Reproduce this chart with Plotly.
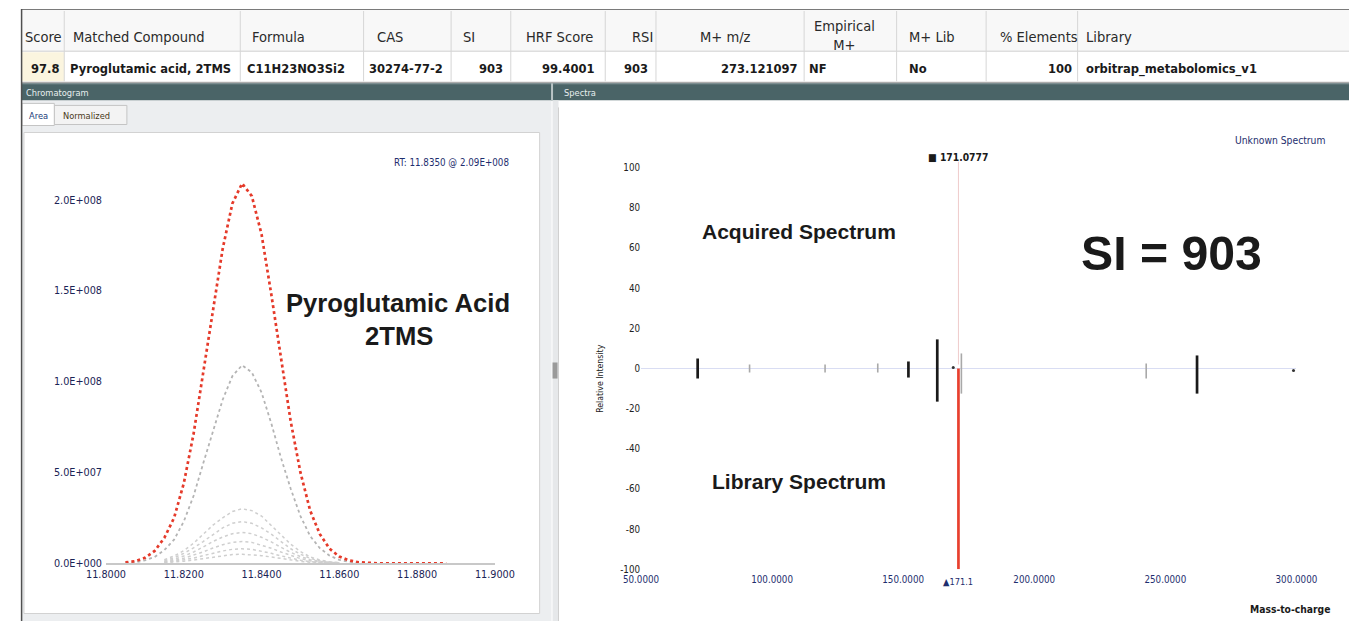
import plotly.graph_objects as go

# The captured picture shows the page slightly shrunk (about 0.975) and centred,
# so reference pixel coordinates are mapped through that transform.
W, H = 1349, 621
A = 0.975
BX, BY = 18.5, 7.0


def fx(x):
    return (x - BX) / A


def fy(y):
    return (y - BY) / A


def px(x):
    return fx(x) / W


def py(y):
    return 1 - fy(y) / H


def fs(s):
    return s / A


# ------------------------------------------------------------------ data
table_headers = ["Score", "Matched Compound", "Formula", "CAS", "SI", "HRF Score", "RSI",
                 "M+ m/z", "Empirical<br>M+", "M+ Lib", "% Elements", "Library"]
table_row = ["97.8", "Pyroglutamic acid, 2TMS", "C11H23NO3Si2", "30274-77-2", "903", "99.4001",
             "903", "273.121097", "NF", "No", "100", "orbitrap_metabolomics_v1"]

# chromatogram (retention time, min) and ion intensities (counts)
rt_times = [11.8050, 11.8075, 11.8100, 11.8125, 11.8150, 11.8175, 11.8200, 11.8225, 11.8250,
            11.8275, 11.8300, 11.8325, 11.8350, 11.8375, 11.8400, 11.8425, 11.8450, 11.8475,
            11.8500, 11.8525, 11.8550, 11.8575, 11.8600, 11.8625, 11.8650, 11.8675, 11.8700,
            11.8725, 11.8750, 11.8775, 11.8800, 11.8825, 11.8850, 11.8875]
quant_ion = [0.5e6, 1.2e6, 3.0e6, 6.8e6, 14e6, 25e6, 44e6, 71e6, 105e6, 140e6, 173e6, 198e6,
             209e6, 202e6, 181e6, 148e6, 112e6, 78e6, 50e6, 29e6, 16e6, 8e6, 3.7e6, 1.6e6,
             0.6e6, 0.2e6, 0, 0, 0, 0, 0, 0, 0, 0]
confirm_ion_1 = [0.3e6, 0.6e6, 1.6e6, 3.5e6, 7.3e6, 13e6, 23e6, 37e6, 55e6, 73e6, 90e6, 103e6,
                 109e6, 105e6, 94e6, 77e6, 58e6, 41e6, 26e6, 15e6, 8.3e6, 4.2e6, 1.9e6, 0.8e6,
                 0.3e6, 0.1e6]
rt_minor = [11.8150, 11.8175, 11.8200, 11.8225, 11.8250, 11.8275, 11.8300, 11.8325, 11.8350,
            11.8375, 11.8400, 11.8425, 11.8450, 11.8475, 11.8500, 11.8525, 11.8550, 11.8575,
            11.8600]
minor_ions = [
    [2e6, 4e6, 7e6, 11e6, 16e6, 21e6, 25e6, 28.5e6, 30e6, 29e6, 26e6, 21e6, 15.5e6, 10.5e6,
     6.5e6, 3.5e6, 1.8e6, 0.8e6, 0.3e6],
    [1.5e6, 3e6, 5.5e6, 8.5e6, 12e6, 16e6, 19.5e6, 22e6, 23e6, 22e6, 19.5e6, 16e6, 12e6, 8e6,
     5e6, 2.7e6, 1.3e6, 0.6e6, 0.2e6],
    [1e6, 2.2e6, 4e6, 6.2e6, 9e6, 12e6, 14.5e6, 16.3e6, 17e6, 16.3e6, 14.3e6, 11.8e6, 8.8e6,
     6e6, 3.7e6, 2e6, 1e6, 0.4e6, 0.2e6],
    [0.8e6, 1.5e6, 2.8e6, 4.4e6, 6.3e6, 8.4e6, 10.2e6, 11.5e6, 12e6, 11.5e6, 10.1e6, 8.3e6,
     6.2e6, 4.2e6, 2.6e6, 1.4e6, 0.7e6, 0.3e6, 0.1e6],
    [0.5e6, 1e6, 1.9e6, 2.9e6, 4.2e6, 5.6e6, 6.8e6, 7.7e6, 8e6, 7.7e6, 6.7e6, 5.5e6, 4.1e6,
     2.8e6, 1.7e6, 0.9e6, 0.5e6, 0.2e6, 0.1e6],
    [0.3e6, 0.6e6, 1.2e6, 1.8e6, 2.6e6, 3.5e6, 4.3e6, 4.8e6, 5e6, 4.8e6, 4.2e6, 3.5e6, 2.6e6,
     1.7e6, 1.1e6, 0.6e6, 0.3e6, 0.1e6, 0],
]
chrom_x_ticks = [11.80, 11.82, 11.84, 11.86, 11.88, 11.90]
chrom_x_labels = ["11.8000", "11.8200", "11.8400", "11.8600", "11.8800", "11.9000"]
chrom_y_ticks = [0, 5e7, 1e8, 1.5e8, 2e8]
chrom_y_labels = ["0.0E+000", "5.0E+007", "1.0E+008", "1.5E+008", "2.0E+008"]

# spectra (m/z, relative intensity %)
acq_major_mz = [71.6, 152.0, 163.0, 262.1]
acq_major_top = [5, 3.5, 14.5, 6.5]
acq_major_bottom = [-5, -4.5, -16.5, -12.5]
acq_minor_mz = [91.4, 120.2, 140.3, 172.2, 242.7]
acq_minor_top = [2, 2, 2.5, 7.5, 2.5]
acq_minor_bottom = [-2, -2, -2, -12.5, -5]
acq_dot_mz = [169.1, 298.9]
acq_dot_val = [0.5, -1]
lib_mz = [171.0777]
lib_val = [-100]
mz_ticks = [50, 100, 150, 200, 250, 300]
mz_labels = ["50.0000", "100.0000", "150.0000", "200.0000", "250.0000", "300.0000"]
rel_ticks = [-100, -80, -60, -40, -20, 0, 20, 40, 60, 80, 100]
rel_labels = ["-100", "-80", "-60", "-40", "-20", "0", "20", "40", "60", "80", "100"]

# ------------------------------------------------------------------ styling
UI_FONT = "Liberation Sans Narrow, DejaVu Sans Condensed, Arial Narrow, sans-serif"
BIG_FONT = "Liberation Sans, Arial, Helvetica, sans-serif"
NAVY = "#1e2e6e"

fig = go.Figure()

# chromatogram traces
for ion in minor_ions:
    fig.add_trace(go.Scatter(x=rt_minor, y=ion, mode="lines", xaxis="x", yaxis="y",
                             line=dict(color="#cfcfcf", width=1.5, dash="dot"),
                             hoverinfo="skip", showlegend=False))
fig.add_trace(go.Scatter(x=rt_times[:len(confirm_ion_1)], y=confirm_ion_1, mode="lines",
                         xaxis="x", yaxis="y",
                         line=dict(color="#b4b4b4", width=1.8, dash="dot"),
                         showlegend=False))
fig.add_trace(go.Scatter(x=rt_times, y=quant_ion, mode="lines", xaxis="x", yaxis="y",
                         line=dict(color="#e53a2a", width=2.7, dash="dot"),
                         showlegend=False))


def seg(xs, lo, hi):
    X, Y = [], []
    for a, b, c in zip(xs, lo, hi):
        X += [a, a, None]
        Y += [b, c, None]
    return X, Y


mx, my = seg(acq_minor_mz, acq_minor_bottom, acq_minor_top)
fig.add_trace(go.Scatter(x=mx, y=my, mode="lines", xaxis="x2", yaxis="y2",
                         line=dict(color="#a9a9a9", width=1.6), showlegend=False))
Mx, My = seg(acq_major_mz, acq_major_bottom, acq_major_top)
fig.add_trace(go.Scatter(x=Mx, y=My, mode="lines", xaxis="x2", yaxis="y2",
                         line=dict(color="#1a1a1a", width=2.7), showlegend=False))
fig.add_trace(go.Scatter(x=acq_dot_mz, y=acq_dot_val, mode="markers", xaxis="x2", yaxis="y2",
                         marker=dict(color="#333", size=3), showlegend=False))
Lx, Ly = seg(lib_mz, [0] * len(lib_mz), lib_val)
fig.add_trace(go.Scatter(x=Lx, y=Ly, mode="lines", xaxis="x2", yaxis="y2",
                         line=dict(color="#e8402e", width=2.7), showlegend=False))

# ------------------------------------------------------------------ chrome shapes
shapes = []


def rect(x0, y0, x1, y1, fill, line="rgba(0,0,0,0)", lw=1):
    shapes.append(dict(type="rect", xref="paper", yref="paper", x0=px(x0), x1=px(x1),
                       y0=py(y1), y1=py(y0), fillcolor=fill, line=dict(color=line, width=lw),
                       layer="below"))


def hline(x0, x1, y, color, lw=1):
    shapes.append(dict(type="line", xref="paper", yref="paper", x0=px(x0), x1=px(x1),
                       y0=py(y), y1=py(y), line=dict(color=color, width=lw), layer="below"))


def vline(x, y0, y1, color, lw=1):
    shapes.append(dict(type="line", xref="paper", yref="paper", x0=px(x), x1=px(x),
                       y0=py(y0), y1=py(y1), line=dict(color=color, width=lw), layer="below"))


LEFT, RIGHT, BOTTOM = 19.5, 1360, 640
# table
rect(LEFT, 10, RIGHT, 52, "#f8f8f8")
rect(LEFT, 52, RIGHT, 83, "#ffffff")
rect(LEFT, 53, 63, 82, "#fbf5df")
hline(LEFT, RIGHT, 10.5, "#7a7a7a", 1.2)
hline(LEFT, RIGHT, 52, "#cfcfcf")
hline(LEFT, RIGHT, 83, "#9a9a9a")
col_sep = [63, 240, 364, 452, 512, 607, 658, 807, 900, 990, 1082]
for c in col_sep:
    vline(c, 12, 82, "#d6d6d6")

# panel header bar
rect(LEFT, 84, RIGHT, 101, "#4a6467")
hline(LEFT, RIGHT, 84.5, "#7f9193")
vline(553.5, 84, 101, "#b9c4c5", 2)

# left panel
rect(LEFT, 101, 553, BOTTOM, "#eceef0")
rect(53, 106, 126, 125, "#f3f3f3", "#c4c4c4")
rect(LEFT + 1, 104, 53, 126, "#ffffff", "#c4c4c4")
rect(LEFT + 3, 133, 541, 612, "#ffffff", "#d2d2d2")
vline(LEFT + 0.6, 10, BOTTOM, "#505050", 1.5)

# right panel
rect(554, 101, RIGHT, BOTTOM, "#ffffff")
rect(554, 101, 560, BOTTOM, "#e6e8ea")
vline(560, 108, BOTTOM, "#d0d0d0")
rect(554, 362, 559, 378, "#9a9a9a")

# marker line above library peak
shapes.append(dict(type="line", xref="x2", yref="paper", x0=lib_mz[0], x1=lib_mz[0],
                   y0=py(364), y1=py(162), line=dict(color="rgba(225,160,160,0.55)", width=1)))

# ------------------------------------------------------------------ annotations
ann = []


def text(x, y, s, size=10, color="#222", anchor="left", bold=False, family=UI_FONT,
         xref="paper", angle=0):
    ann.append(dict(x=px(x) if xref == "paper" else x, y=py(y), xref=xref, yref="paper",
                    text=f"<b>{s}</b>" if bold else s, showarrow=False, xanchor=anchor,
                    yanchor="middle", textangle=angle,
                    font=dict(size=fs(size), color=color, family=family)))


header_x = [22, 70, 250, 375, 462, 525, 632, 700, 815, 910, 1002, 1088]
for hx, h in zip(header_x, table_headers):
    text(hx, 37 if "<br>" not in h else 36, h, size=14.2, color="#2a2a2a")

row_pos = [(60, "right"), (67, "left"), (245, "left"), (367, "left"), (506, "right"),
           (599, "right"), (652, "right"), (803, "right"), (810, "left"), (910, "left"),
           (1078, "right"), (1088, "left")]
for (rx, anc), v in zip(row_pos, table_row):
    text(rx, 69.5, v, size=12.5, color="#1a1a1a", anchor=anc, bold=True)

text(23, 93, "Chromatogram", size=9, color="#e8eeee")
text(564, 93, "Spectra", size=9, color="#e8eeee")
text(26, 116, "Area", size=9, color="#1a3c7a")
text(60, 116, "Normalized", size=9, color="#4a3a20")

text(452, 163, "RT: 11.8350 @ 2.09E+008", size=9.5, color=NAVY, anchor="center")
text(1286, 140, "Unknown Spectrum", size=10, color=NAVY, anchor="center")
text(lib_mz[0], 157, f"■ {lib_mz[0]:.4f}", size=10, color="#1a1a1a", anchor="center",
     bold=True, xref="x2")
text(lib_mz[0], 580, f"▲{lib_mz[0]:.1f}", size=9, color=NAVY, anchor="center", xref="x2")
text(1296, 607, "Mass-to-charge", size=10, color="#1a1a1a", anchor="center", bold=True)
text(601, 378, "Relative Intensity", size=8.5, color="#1a1a1a", anchor="center", angle=-90)

text(399, 303, "Pyroglutamic Acid", size=25, color="#1a1a1a", anchor="center", bold=True,
     family=BIG_FONT)
text(400, 336, "2TMS", size=25, color="#1a1a1a", anchor="center", bold=True, family=BIG_FONT)
text(802, 232, "Acquired Spectrum", size=20.5, color="#1a1a1a", anchor="center", bold=True,
     family=BIG_FONT)
text(802, 481, "Library Spectrum", size=20.5, color="#1a1a1a", anchor="center", bold=True,
     family=BIG_FONT)
text(1176, 253, "SI = 903", size=47, color="#1a1a1a", anchor="center", bold=True,
     family=BIG_FONT)

# ------------------------------------------------------------------ layout
tickfont = dict(size=fs(10.5), color="#1a2456", family=UI_FONT)
tickfont_x2 = dict(size=fs(9.5), color=NAVY, family=UI_FONT)
tickfont_y2 = dict(size=fs(9.5), color="#222222", family=UI_FONT)
fig.update_layout(
    width=W, height=H, autosize=False,
    margin=dict(l=0, r=0, t=0, b=0),
    paper_bgcolor="#ffffff", plot_bgcolor="rgba(0,0,0,0)",
    showlegend=False,
    shapes=shapes, annotations=ann,
    xaxis=dict(domain=[px(105), px(496)], range=[11.80, 11.90], tickvals=chrom_x_ticks,
               ticktext=chrom_x_labels, showgrid=False, zeroline=False, showline=True,
               linecolor="#c8c8c8", linewidth=1.5, ticks="", tickfont=tickfont,
               anchor="y", fixedrange=True),
    yaxis=dict(domain=[py(562), py(150)], range=[0, 2.276e8], tickvals=chrom_y_ticks,
               ticktext=chrom_y_labels, showgrid=False, zeroline=False, showline=False,
               ticks="", tickfont=tickfont, anchor="x", fixedrange=True,
               ticklabelstandoff=3),
    xaxis2=dict(domain=[px(643), px(1302)], range=[50, 300], tickvals=mz_ticks,
                ticktext=mz_labels, showgrid=False, zeroline=False, showline=False,
                ticks="", tickfont=tickfont_x2, anchor="y2", fixedrange=True,
                ticklabelstandoff=3),
    yaxis2=dict(domain=[py(568), py(168)], range=[-100, 100], tickvals=rel_ticks,
                ticktext=rel_labels, showgrid=False, zeroline=True, zerolinecolor="#d9ddf3",
                zerolinewidth=1, showline=False, ticks="", tickfont=tickfont_y2, anchor="x2",
                fixedrange=True),
)

fig.write_html(
    "out.html",
    config={"displayModeBar": False},
    post_script=("document.documentElement.style.margin='0';"
                 "document.documentElement.style.overflow='hidden';"
                 "document.body.style.margin='0';"
                 "document.body.style.overflow='hidden';"),
)
